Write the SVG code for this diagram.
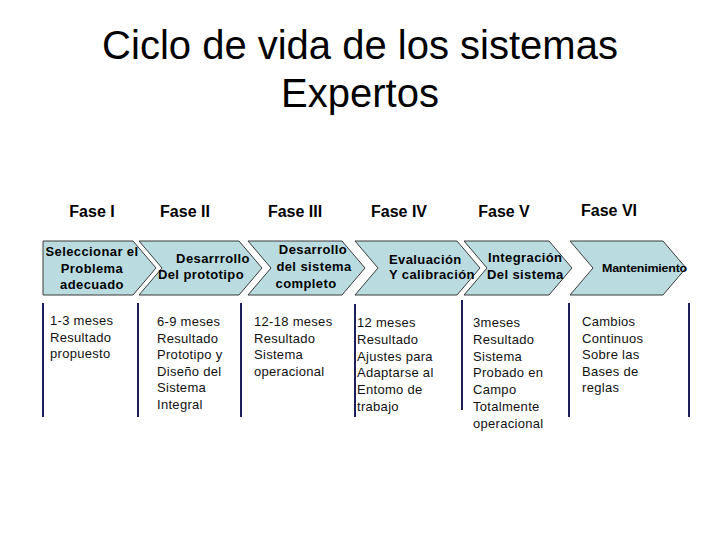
<svg xmlns="http://www.w3.org/2000/svg" width="720" height="540" viewBox="0 0 720 540">
<style>
.title{font-family:"Liberation Sans",Arial,sans-serif;font-size:40px;fill:#000;text-anchor:middle}
.fase{font-family:"Liberation Sans",Arial,sans-serif;font-size:16px;font-weight:bold;fill:#000;text-anchor:middle}
.chev{fill:#BADCE1;stroke:#3a3a3a;stroke-width:1}
.ct{font-family:"Liberation Sans",Arial,sans-serif;font-size:13px;font-weight:bold;fill:#000;letter-spacing:0.4px}
.mid{text-anchor:middle}
.bt{font-family:"Liberation Sans",Arial,sans-serif;font-size:13px;fill:#111;letter-spacing:0.3px}
.sep{stroke:#1E1E5A;stroke-width:2}
</style>
<rect width="720" height="540" fill="#fff"/>
<g id="title">
<text class="title" x="360" y="59">Ciclo de vida de los sistemas</text>
<text class="title" x="360" y="107">Expertos</text>
</g>
<g id="fases">
<text class="fase" x="92" y="217">Fase I</text>
<text class="fase" x="185" y="217">Fase II</text>
<text class="fase" x="295" y="217">Fase III</text>
<text class="fase" x="399" y="217">Fase IV</text>
<text class="fase" x="504" y="217">Fase V</text>
<text class="fase" x="609" y="216">Fase VI</text>
</g>
<g id="c1">
<polygon class="chev" points="43,241 133,241 156,268 133,295 43,295"/>
<text class="ct mid" x="92" y="256">Seleccionar el</text>
<text class="ct mid" x="92" y="273">Problema</text>
<text class="ct mid" x="92" y="289">adecuado</text>
</g>
<g id="c2">
<polygon class="chev" points="139,241 239,241 262,268 239,295 139,295 162,268"/>
<text class="ct mid" x="213" y="263">Desarrrollo</text>
<text class="ct mid" x="201" y="279">Del prototipo</text>
</g>
<g id="c3">
<polygon class="chev" points="248,241 342,241 365,268 342,295 248,295 271,268"/>
<text class="ct mid" x="313" y="254">Desarrollo</text>
<text class="ct mid" x="314" y="271">del sistema</text>
<text class="ct mid" x="306" y="288">completo</text>
</g>
<g id="c4">
<polygon class="chev" points="355,241 457,241 480,268 457,295 355,295 378,268"/>
<text class="ct" x="389" y="264">Evaluación</text>
<text class="ct" x="389" y="279">Y calibración</text>
</g>
<g id="c5">
<polygon class="chev" points="464,241 549,241 572,268 549,295 464,295 487,268"/>
<text class="ct" x="488" y="262">Integración</text>
<text class="ct" x="487" y="279">Del sistema</text>
</g>
<g id="c6">
<polygon class="chev" points="570,241 663,241 686,268 663,295 570,295 593,268"/>
<text class="ct" x="602" y="272" style="font-size:11.5px;letter-spacing:-0.2px" textLength="85" lengthAdjust="spacingAndGlyphs">Mantenimiento</text>
</g>
<g id="connectors">
<line class="sep" x1="43" y1="303" x2="43" y2="417"/>
<line class="sep" x1="138" y1="303" x2="138" y2="417"/>
<line class="sep" x1="241" y1="303" x2="241" y2="417"/>
<line class="sep" x1="355" y1="304" x2="355" y2="417"/>
<line class="sep" x1="462" y1="300" x2="462" y2="410"/>
<line class="sep" x1="569" y1="303" x2="569" y2="417"/>
<line class="sep" x1="689" y1="303" x2="689" y2="417"/>
</g>
<g id="col1">
<text class="bt" x="50" y="325">1-3 meses</text>
<text class="bt" x="50" y="342">Resultado</text>
<text class="bt" x="50" y="358">propuesto</text>
</g>
<g id="col2">
<text class="bt" x="157" y="326">6-9 meses</text>
<text class="bt" x="157" y="343">Resultado</text>
<text class="bt" x="157" y="359">Prototipo y</text>
<text class="bt" x="157" y="376">Diseño del</text>
<text class="bt" x="157" y="392">Sistema</text>
<text class="bt" x="157" y="409">Integral</text>
</g>
<g id="col3">
<text class="bt" x="254" y="326">12-18 meses</text>
<text class="bt" x="254" y="343">Resultado</text>
<text class="bt" x="254" y="359">Sistema</text>
<text class="bt" x="254" y="376">operacional</text>
</g>
<g id="col4">
<text class="bt" x="357" y="327">12 meses</text>
<text class="bt" x="357" y="344">Resultado</text>
<text class="bt" x="357" y="361">Ajustes para</text>
<text class="bt" x="357" y="377">Adaptarse al</text>
<text class="bt" x="357" y="394">Entomo de</text>
<text class="bt" x="357" y="411">trabajo</text>
</g>
<g id="col5">
<text class="bt" x="473" y="327">3meses</text>
<text class="bt" x="473" y="344">Resultado</text>
<text class="bt" x="473" y="361">Sistema</text>
<text class="bt" x="473" y="377">Probado en</text>
<text class="bt" x="473" y="394">Campo</text>
<text class="bt" x="473" y="411">Totalmente</text>
<text class="bt" x="473" y="428">operacional</text>
</g>
<g id="col6">
<text class="bt" x="582" y="326">Cambios</text>
<text class="bt" x="582" y="343">Continuos</text>
<text class="bt" x="582" y="359">Sobre las</text>
<text class="bt" x="582" y="376">Bases de</text>
<text class="bt" x="582" y="392">reglas</text>
</g>
</svg>
